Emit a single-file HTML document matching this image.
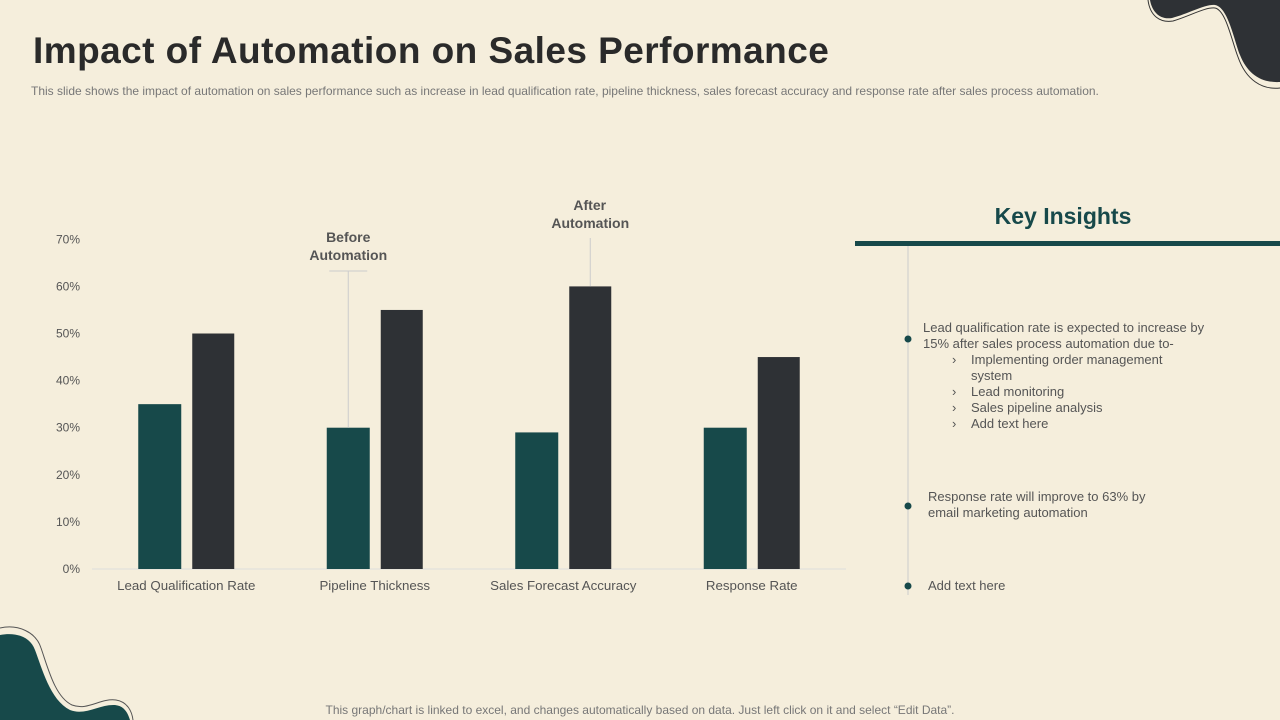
<!DOCTYPE html>
<html><head><meta charset="utf-8">
<style>
body{margin:0;width:1280px;height:720px;background:#f5eedc;font-family:"Liberation Sans",sans-serif;overflow:hidden;position:relative}
#title{position:absolute;left:33px;top:30px;font-size:37px;font-weight:bold;color:#2a2a2a;margin:0;letter-spacing:0.45px}
#sub{position:absolute;left:31px;top:84px;font-size:12px;color:#777;white-space:nowrap}
#foot{position:absolute;left:0;width:1280px;top:703px;text-align:center;font-size:12px;color:#777}
svg{position:absolute;left:0;top:0}
</style></head><body>
<svg width="1280" height="720">
<path d="M1150,0 C1152,12 1160,20 1172,18 C1188,14 1205,4 1215,5 C1228,7 1234,40 1240,55 C1248,75 1262,83 1280,82 L1280,0 Z" fill="#2e3135"/>
<path d="M1148,0 C1150,16 1160,23 1173,21 C1190,16 1205,7 1215,8 C1226,10 1232,42 1238,57 C1246,80 1262,90 1280,88" fill="none" stroke="#333" stroke-width="1"/>
<path d="M0,635 C15,632 30,636 35,650 C42,668 50,700 70,710 C85,716 100,704 115,705 C125,706 128,714 130,720 L0,720 Z" fill="#17494a"/>
<path d="M0,628 C18,624 36,632 41,648 C48,668 55,697 72,705 C88,711 100,698 116,700 C128,702 132,712 133,720" fill="none" stroke="#555" stroke-width="1"/>
</svg>
<h1 id="title">Impact of Automation on Sales Performance</h1>
<div id="sub">This slide shows the impact of automation on sales performance such as increase in lead qualification rate, pipeline thickness, sales forecast accuracy and response rate after sales process automation.</div>
<svg id="chart" width="1280" height="720"></svg>
<svg width="1280" height="720">
<text x="1063" y="224" text-anchor="middle" font-size="23" font-weight="bold" fill="#17494a">Key Insights</text>
<rect x="855" y="241" width="425" height="5" fill="#17494a"/>
<line x1="908" y1="246" x2="908" y2="595" stroke="#ccc" stroke-width="1"/>
<circle cx="908" cy="339" r="3.5" fill="#17494a"/>
<circle cx="908" cy="506" r="3.5" fill="#17494a"/>
<circle cx="908" cy="586" r="3.5" fill="#17494a"/>
<g font-size="13" fill="#555">
<text x="923" y="332">Lead qualification rate is expected to increase by</text>
<text x="923" y="348">15% after sales process automation due to-</text>
<text x="952" y="364">›</text><text x="971" y="364">Implementing order management</text>
<text x="971" y="380">system</text>
<text x="952" y="396">›</text><text x="971" y="396">Lead monitoring</text>
<text x="952" y="412">›</text><text x="971" y="412">Sales pipeline analysis</text>
<text x="952" y="428">›</text><text x="971" y="428">Add text here</text>
<text x="928" y="501">Response rate will improve  to 63% by</text>
<text x="928" y="517">email marketing automation</text>
<text x="928" y="590">Add text here</text>
</g>
</svg>
<div id="foot">This graph/chart is linked to excel,  and changes automatically based on data. Just left click on it and select “Edit Data”.</div>
<script>
const categories=["Lead Qualification Rate","Pipeline Thickness","Sales Forecast Accuracy","Response Rate"];
const before=[35,30,29,30];
const after=[50,55,60,45];
const ticks=[0,10,20,30,40,50,60,70];
const NS="http://www.w3.org/2000/svg";
const svg=document.getElementById('chart');
const y0=569,pxPer=4.71,x0=92,band=188.5;
const ys=v=>y0-v*pxPer;
const xc=i=>x0+band*(i+0.5);
function mk(t,a,txt){const e=document.createElementNS(NS,t);for(const k in a)e.setAttribute(k,a[k]);if(txt!==undefined)e.textContent=txt;svg.appendChild(e);return e;}
const ax=mk('line',{x1:x0,x2:x0+band*4,y1:y0,y2:y0,stroke:'#ddd'});


ticks.forEach(t=>{const e=mk('text',{x:80,y:ys(t)+4,'text-anchor':'end','font-size':12,fill:'#555'},t+'%');

});
categories.forEach((c,i)=>{
const b=mk('rect',{x:xc(i)-48,y:ys(before[i]),width:43,height:before[i]*pxPer,fill:'#17494a'});


const a=mk('rect',{x:xc(i)+6,y:ys(after[i]),width:42,height:after[i]*pxPer,fill:'#2e3135'});


const l=mk('text',{x:xc(i),y:590,'text-anchor':'middle','font-size':13.3,fill:'#555'},c);


});
const bx=xc(1)-26.5, ax2=xc(2)+27;
mk('line',{x1:bx,x2:bx,y1:271,y2:ys(before[1]),stroke:'#ccc'});
mk('line',{x1:bx-19,x2:bx+19,y1:271,y2:271,stroke:'#ccc'});
mk('line',{x1:ax2,x2:ax2,y1:238,y2:ys(after[2]),stroke:'#ccc'});
const c1=mk('text',{x:bx,y:242,'text-anchor':'middle','font-size':14,'font-weight':'bold',fill:'#555'});


c1.innerHTML='<tspan x="'+bx+'">Before</tspan><tspan x="'+bx+'" dy="18">Automation</tspan>';
const c2=mk('text',{x:ax2,y:210,'text-anchor':'middle','font-size':14,'font-weight':'bold',fill:'#555'});


c2.innerHTML='<tspan x="'+(ax2-0.5)+'">After</tspan><tspan x="'+ax2+'" dy="18">Automation</tspan>';
</script>
</body></html>
